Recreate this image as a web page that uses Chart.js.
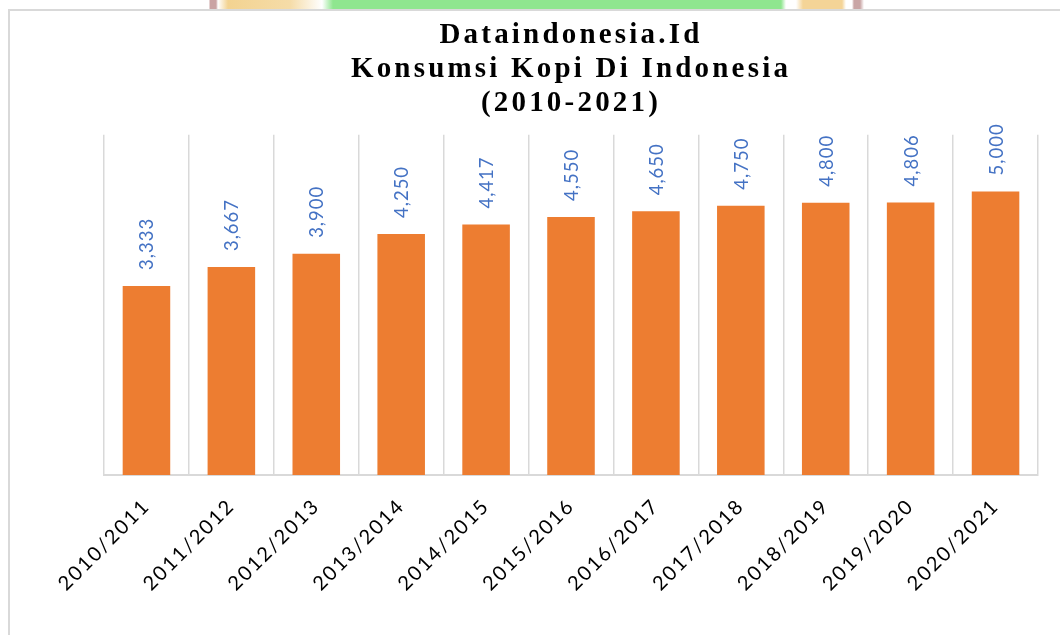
<!DOCTYPE html>
<html>
<head>
<meta charset="utf-8">
<script src="https://cdn.jsdelivr.net/npm/chart.js@4.4.0/dist/chart.umd.min.js"></script>
<style>
    html, body { margin: 0; padding: 0; background: #fff; overflow: hidden; }
    #strip {
        position: absolute; left: 0; top: 0; width: 1060px; height: 10px;
        background: linear-gradient(to right, #fff 0px, #fff 209px, #caa3a3 210px, #caa3a3 216px, #fff 218px,
            #f3d391 228px, #f5dca8 290px, #fff 322px, #8fe68f 333px, #8fe68f 781px, #fff 786px, #fff 796px,
            #f4d497 803px, #f4d497 842px, #fff 846px, #fff 852px, #c9a5a5 854px, #c9a5a5 860px, #fff 864px);
    }
    #frame {
        position: absolute; left: 8px; top: 9px; width: 1100px; height: 700px;
        border-left: 2px solid #d9d9d9; border-top: 2px solid #d9d9d9;
    }
    #canvasParent { position: absolute; left: 0; top: 0; width: 1060px; height: 635px; }
</style>
</head>
<body>
<div id="strip"></div>
<div id="frame"></div>
<div id="canvasParent"><canvas id="display" width="1060" height="635"></canvas></div>
<script>
    const seasons = ["2010/2011", "2011/2012", "2012/2013", "2013/2014", "2014/2015", "2015/2016",
        "2016/2017", "2017/2018", "2018/2019", "2019/2020", "2020/2021"];
    const consumption = [3333, 3667, 3900, 4250, 4417, 4550, 4650, 4750, 4800, 4806, 5000];
    const titleLines = ["Dataindonesia.Id", "Konsumsi Kopi Di Indonesia", "(2010-2021)"];
    const yMax = 6000;

    // canvas letterSpacing is not a Chart.js option, so set it on the context
    let spacingPlugin = {
        id: "spacing",
        beforeLayout: function (chart) {
            chart.ctx.letterSpacing = "2px";
        },
        beforeDraw: function (chart) {
            const ctx = chart.ctx;
            ctx.letterSpacing = "2px";
            const title = chart.titleBlock;
            if (title && !title._spaced) {
                const orig = title.draw;
                title.draw = function () {
                    ctx.save();
                    ctx.letterSpacing = "3.2px";
                    orig.apply(title, arguments);
                    ctx.restore();
                };
                title._spaced = true;
            }
        }
    };

    let valueLabels = {
        id: "valueLabels",
        afterDatasetsDraw: function (chart) {
            const ctx = chart.ctx;
            const meta = chart.getDatasetMeta(0);
            ctx.save();
            ctx.letterSpacing = "1px";
            ctx.font = "18.5px Lato";
            ctx.fillStyle = "#4472C4";
            ctx.textAlign = "left";
            ctx.textBaseline = "middle";
            meta.data.forEach((bar, i) => {
                ctx.save();
                ctx.translate(bar.x + 1, bar.y - 16);
                ctx.rotate(-Math.PI / 2);
                ctx.fillText(consumption[i].toLocaleString("en-US"), 0, 0);
                ctx.restore();
            });
            ctx.restore();
        }
    };

    const workingChart = new Chart(document.getElementById("display"), {
        type: "bar",
        data: {
            labels: seasons,
            datasets: [{
                label: "Konsumsi Kopi",
                data: consumption,
                backgroundColor: "#ED7D31",
                borderWidth: 0,
                barPercentage: 0.56,
                categoryPercentage: 1
            }]
        },
        options: {
            responsive: false,
            maintainAspectRatio: false,
            animation: false,
            devicePixelRatio: 1,
            layout: {
                padding: {left: 104, right: 22, top: 0, bottom: 0}
            },
            plugins: {
                legend: {display: false},
                tooltip: {enabled: false},
                title: {
                    display: true,
                    text: titleLines,
                    color: "#000",
                    font: {family: "'Liberation Serif', serif", size: 29, weight: "bold", lineHeight: 1.17},
                    padding: {top: 19, bottom: 14}
                }
            },
            scales: {
                x: {
                    grid: {
                        display: true,
                        color: "#d9d9d9",
                        lineWidth: 1.5,
                        drawTicks: false
                    },
                    border: {display: true, color: "#d9d9d9", width: 2},
                    ticks: {
                        color: "#000",
                        font: {family: "Lato", size: 20},
                        minRotation: 45,
                        maxRotation: 45,
                        padding: 19
                    },
                    afterFit: function (scale) {
                        scale.height = 160;
                    }
                },
                y: {
                    display: false,
                    min: 0,
                    max: yMax
                }
            }
        },
        plugins: [spacingPlugin, valueLabels]
    });
</script>
</body>
</html>
